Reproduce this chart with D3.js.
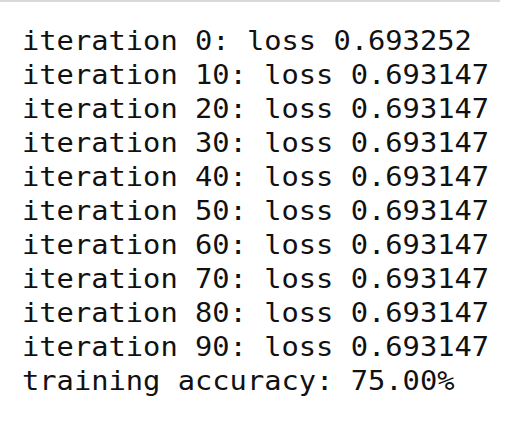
<!DOCTYPE html>
<html><head><meta charset="utf-8">
<script src="https://cdn.jsdelivr.net/npm/d3@7"></script>
<style>body{margin:0;background:#fff}</style></head>
<body><script>
const iterations = [0,10,20,30,40,50,60,70,80,90];
const losses = ["0.693252","0.693147","0.693147","0.693147","0.693147","0.693147","0.693147","0.693147","0.693147","0.693147"];
const accuracy = "75.00%";
const lines = iterations.map((it,i)=>`iteration ${it}: loss ${losses[i]}`).concat([`training accuracy: ${accuracy}`]);
const W=515,H=429;
const svg=d3.select("body").append("svg").attr("width",W).attr("height",H);
svg.append("rect").attr("x",0).attr("y",0).attr("width",500).attr("height",2).attr("fill","#d9d9d9");
const y=d3.scaleLinear().domain([0,lines.length-1]).range([50,390]);
svg.selectAll("text.l").data(lines).join("text")
 .attr("x",22).attr("y",(d,i)=>y(i))
 .attr("font-family","'DejaVu Sans Mono','Liberation Mono',monospace")
 .attr("font-size",26).attr("fill","#111")
 .attr("textLength",d=>d.length*17.3).attr("lengthAdjust","spacingAndGlyphs")
 .attr("xml:space","preserve")
 .text(d=>d);
</script></body></html>
